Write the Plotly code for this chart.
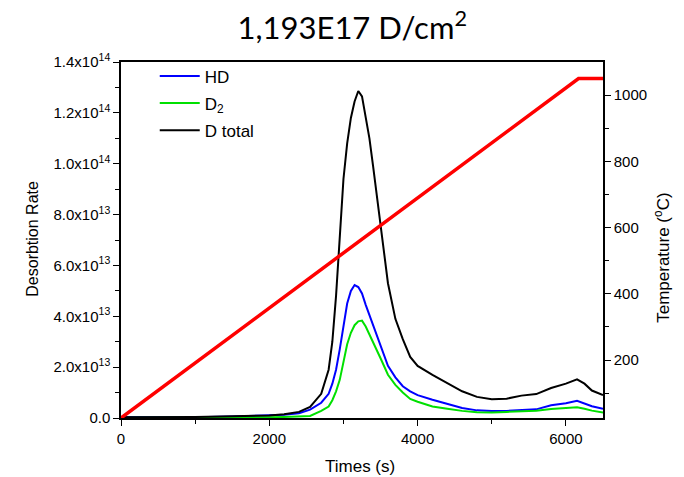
import plotly.graph_objects as go

time_s = [0, 500, 1000, 1500, 2000, 2200, 2400, 2550, 2700, 2800, 2850, 2900, 2950, 3000, 3050,
          3100, 3150, 3200, 3250, 3300, 3350, 3400, 3450, 3500, 3600, 3700, 3800, 3900, 4000,
          4200, 4400, 4600, 4800, 5000, 5200, 5400, 5600, 5800, 6000, 6150, 6250, 6350, 6500]

hd_e12 = [0.4, 0.3, 0.3, 0.6, 0.9, 1.3, 1.9, 3.3, 6.0, 9.5, 13.5, 19, 27, 37, 45,
          50, 52.3, 51.5, 49, 44.5, 40.5, 36, 32, 27.7, 20.5, 16, 12.5, 10.5, 9.0,
          7.2, 5.4, 3.9, 3.0, 2.75, 2.8, 3.0, 3.4, 5.0, 5.8, 6.8, 5.8, 4.6, 3.6]

d2_e12 = [0.1, 0.1, 0.1, 0.2, 0.3, 0.4, 0.5, 0.8, 2.8, 4.5, 7.0, 10.5, 15, 22, 29,
          33.5, 36.5, 38, 38.3, 36, 33, 30, 27, 23.5, 17, 13, 10, 7.5, 6.4,
          4.5, 3.6, 2.8, 2.3, 2.2, 2.4, 2.6, 2.9, 3.5, 4.0, 4.2, 3.6, 2.9, 2.2]

dtot_e12 = [0.3, 0.3, 0.4, 0.7, 1.0, 1.5, 2.4, 4.4, 9.5, 19, 30, 48, 72, 94, 108,
            118, 124.5, 128.6, 126.5, 119, 110, 99, 87, 75, 53, 39, 31, 24, 20.5,
            17, 13.7, 10.5, 8.3, 7.4, 7.6, 8.8, 9.4, 11.8, 13.5, 15.2, 13.5, 10.8, 9.0]

temp_time_s = [0, 6170, 6500]
temp_c = [25, 1050, 1050]

y_tickvals = [0, 2e13, 4e13, 6e13, 8e13, 1e14, 1.2e14, 1.4e14]
y_ticktext = ["0.0", "2.0x10<sup>13</sup>", "4.0x10<sup>13</sup>", "6.0x10<sup>13</sup>",
              "8.0x10<sup>13</sup>", "1.0x10<sup>14</sup>", "1.2x10<sup>14</sup>", "1.4x10<sup>14</sup>"]

scale = 1e12
fig = go.Figure()
fig.add_trace(go.Scatter(x=time_s, y=[v * scale for v in hd_e12], mode="lines", name="HD",
                         legendgroup="a", line=dict(color="#0000ff", width=2)))
fig.add_trace(go.Scatter(x=time_s, y=[v * scale for v in d2_e12], mode="lines", name="D<sub>2</sub>",
                         legendgroup="b", line=dict(color="#00e000", width=2)))
fig.add_trace(go.Scatter(x=time_s, y=[v * scale for v in dtot_e12], mode="lines", name="D total",
                         legendgroup="c", line=dict(color="#000000", width=2)))
fig.add_trace(go.Scatter(x=temp_time_s, y=temp_c, mode="lines", name="T", yaxis="y2",
                         showlegend=False, line=dict(color="#ff0000", width=3.5)))

axfont = dict(family="Liberation Sans, Arial", size=15, color="black")
fig.update_layout(
    width=684, height=477,
    margin=dict(l=121, r=81, t=62, b=59),
    paper_bgcolor="white", plot_bgcolor="white",
    font=axfont,
    title=dict(text="1,193E17 D/cm<sup>2</sup>", x=0.515, xanchor="center", y=0.94, yanchor="middle",
               font=dict(family="Lato, Carlito, Calibri", size=31, color="black")),
    xaxis=dict(range=[0, 6500], tickvals=[0, 2000, 4000, 6000], ticks="outside", ticklen=6,
               tickwidth=1, tickcolor="black", showline=True, linecolor="black", linewidth=1.5,
               mirror=True, showgrid=False, zeroline=False, tickfont=dict(size=15),
               minor=dict(tickvals=[1000, 3000, 5000], ticks="outside", ticklen=4, tickcolor="black")),
    yaxis=dict(range=[0, 1.4e14], tickvals=y_tickvals, ticktext=y_ticktext, ticks="outside",
               ticklen=6, tickwidth=1, tickcolor="black", showline=True, linecolor="black",
               linewidth=1.5, showgrid=False, zeroline=False, tickfont=dict(size=15),
               minor=dict(tickvals=[1e13, 3e13, 5e13, 7e13, 9e13, 1.1e14, 1.3e14], ticks="outside",
                          ticklen=4, tickcolor="black")),
    yaxis2=dict(range=[25, 1100], overlaying="y", side="right", tickvals=[200, 400, 600, 800, 1000],
                ticks="outside", ticklen=6, tickwidth=1, tickcolor="black", showline=True,
                linecolor="black", linewidth=1.5, showgrid=False, zeroline=False,
                tickfont=dict(size=15),
                minor=dict(tickvals=[100, 300, 500, 700, 900], ticks="outside", ticklen=4,
                           tickcolor="black")),
    legend=dict(x=0.07, y=1.01, xanchor="left", yanchor="top", bgcolor="rgba(0,0,0,0)",
                font=dict(family="Liberation Sans, Arial", size=17, color="black"),
                tracegroupgap=2, itemwidth=40),
    showlegend=True,
    annotations=[
        dict(text="Times (s)", xref="paper", yref="paper", x=0.496, y=-0.135,
             xanchor="center", yanchor="middle", showarrow=False, font=dict(size=17)),
        dict(text="Desorbtion Rate", xref="paper", yref="paper", x=-0.183, y=0.503,
             xanchor="center", yanchor="middle", textangle=-90, showarrow=False, font=dict(size=16)),
        dict(text="Temperature (<sup>o</sup>C)", xref="paper", yref="paper", x=1.1224, y=0.45,
             xanchor="center", yanchor="middle", textangle=-90, showarrow=False, font=dict(size=17)),
    ],
)

fig.write_html("out.html")
